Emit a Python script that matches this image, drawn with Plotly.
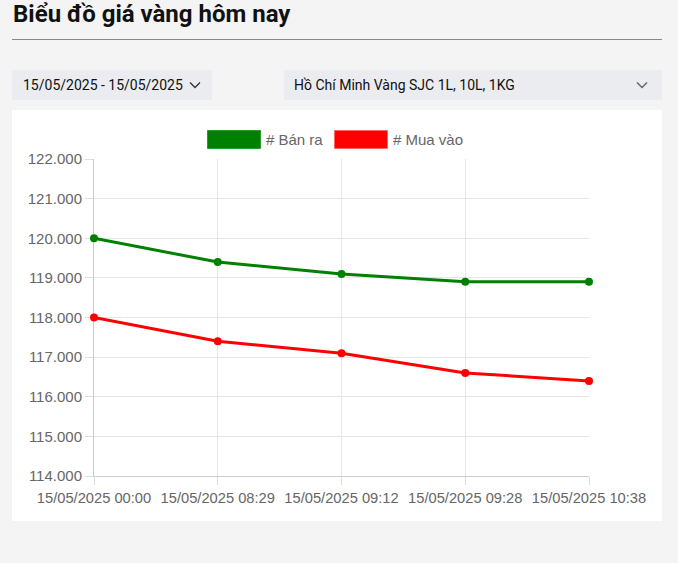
import plotly.graph_objects as go

W, H = 678, 563

title_text = "Biểu đồ giá vàng hôm nay"
date_range = "15/05/2025 - 15/05/2025"
product = "Hồ Chí Minh Vàng SJC 1L, 10L, 1KG"

times = ["15/05/2025 00:00", "15/05/2025 08:29", "15/05/2025 09:12",
         "15/05/2025 09:28", "15/05/2025 10:38"]
ban_ra = [120000, 119400, 119100, 118900, 118900]
mua_vao = [118000, 117400, 117100, 116600, 116400]
series_names = ["# Bán ra", "# Mua vào"]
series_colors = ["#008000", "#ff0000"]
y_ticks = [114000, 115000, 116000, 117000, 118000, 119000, 120000, 121000, 122000]
y_tick_labels = ["{:,}".format(v).replace(",", ".") for v in y_ticks]


def px(x):
    return x / W


def py(y):
    return 1 - y / H


fig = go.Figure()
for name, vals, col in zip(series_names, [ban_ra, mua_vao], series_colors):
    fig.add_trace(go.Scatter(
        x=times, y=vals, name=name, mode="lines+markers",
        line=dict(color=col, width=3),
        marker=dict(color=col, size=8),
        showlegend=False, cliponaxis=False,
    ))

shapes = [
    # title underline
    dict(type="line", xref="paper", yref="paper", x0=px(12), x1=px(662),
         y0=py(39.5), y1=py(39.5), line=dict(color="#888888", width=1), layer="below"),
    # dropdown boxes
    dict(type="rect", xref="paper", yref="paper", x0=px(12), x1=px(212),
         y0=py(70), y1=py(100), fillcolor="#ebecf0", line=dict(width=0), layer="below"),
    dict(type="rect", xref="paper", yref="paper", x0=px(284), x1=px(662),
         y0=py(70), y1=py(100), fillcolor="#ebecf0", line=dict(width=0), layer="below"),
    # white card
    dict(type="rect", xref="paper", yref="paper", x0=px(12), x1=px(662),
         y0=py(110), y1=py(521), fillcolor="#ffffff", line=dict(width=0), layer="below"),
    # chevrons
    dict(type="path", xref="paper", yref="paper",
         path="M {} {} L {} {} L {} {}".format(px(190), py(82.5), px(195), py(87.5), px(200), py(82.5)),
         line=dict(color="#333333", width=1.3)),
    dict(type="path", xref="paper", yref="paper",
         path="M {} {} L {} {} L {} {}".format(px(637), py(82.5), px(642), py(87.5), px(647), py(82.5)),
         line=dict(color="#666666", width=1.5)),
    # legend boxes
    dict(type="rect", xref="paper", yref="paper", x0=px(207.5), x1=px(260.5),
         y0=py(130.5), y1=py(148.5), fillcolor=series_colors[0],
         line=dict(color="#2a9a2a", width=1)),
    dict(type="rect", xref="paper", yref="paper", x0=px(334.5), x1=px(387.5),
         y0=py(130.5), y1=py(148.5), fillcolor=series_colors[1],
         line=dict(color="#ff6666", width=1)),
]

annotations = [
    dict(text="<b>" + title_text + "</b>", xref="paper", yref="paper", x=px(11), y=py(14),
         xanchor="left", yanchor="middle", showarrow=False,
         font=dict(family="Roboto", size=24, color="#111111")),
    dict(text=date_range, xref="paper", yref="paper", x=px(20.5), y=py(85),
         xanchor="left", yanchor="middle", showarrow=False,
         font=dict(family="Roboto", size=14, color="#111111")),
    dict(text=product, xref="paper", yref="paper", x=px(291.5), y=py(85),
         xanchor="left", yanchor="middle", showarrow=False,
         font=dict(family="Roboto", size=14, color="#111111")),
    dict(text=series_names[0], xref="paper", yref="paper", x=px(264), y=py(139.5),
         xanchor="left", yanchor="middle", showarrow=False,
         font=dict(family="Liberation Sans", size=15, color="#666666")),
    dict(text=series_names[1], xref="paper", yref="paper", x=px(391), y=py(139.5),
         xanchor="left", yanchor="middle", showarrow=False,
         font=dict(family="Liberation Sans", size=15, color="#666666")),
]

fig.update_layout(
    width=W, height=H,
    margin=dict(l=0, r=0, t=0, b=0),
    paper_bgcolor="#f4f4f4",
    plot_bgcolor="#ffffff",
    shapes=shapes,
    annotations=annotations,
    showlegend=False,
    xaxis=dict(
        domain=[px(94), px(589)],
        type="category", range=[0, 4],
        showgrid=True, gridcolor="#e6e6e6", gridwidth=1,
        showline=True, linecolor="#cccccc", linewidth=1,
        ticks="outside", ticklen=8, tickcolor="#dddddd",
        tickangle=0, automargin=False, layer="below traces",
        tickfont=dict(family="Liberation Sans", size=14.7, color="#666666"),
        zeroline=False, fixedrange=True,
    ),
    yaxis=dict(
        domain=[py(476), py(159)],
        range=[114000, 122000],
        tickvals=y_ticks, ticktext=y_tick_labels,
        showgrid=True, gridcolor="#e6e6e6", gridwidth=1,
        showline=True, linecolor="#cccccc", linewidth=1,
        ticks="outside", ticklen=8, tickcolor="#dddddd",
        automargin=False, layer="below traces",
        tickfont=dict(family="Liberation Sans", size=15, color="#666666"),
        zeroline=False, fixedrange=True,
    ),
)

fig.write_html("out.html", config={"displayModeBar": False},
               post_script="document.body.style.margin='0';document.body.style.background='#f4f4f4';")
